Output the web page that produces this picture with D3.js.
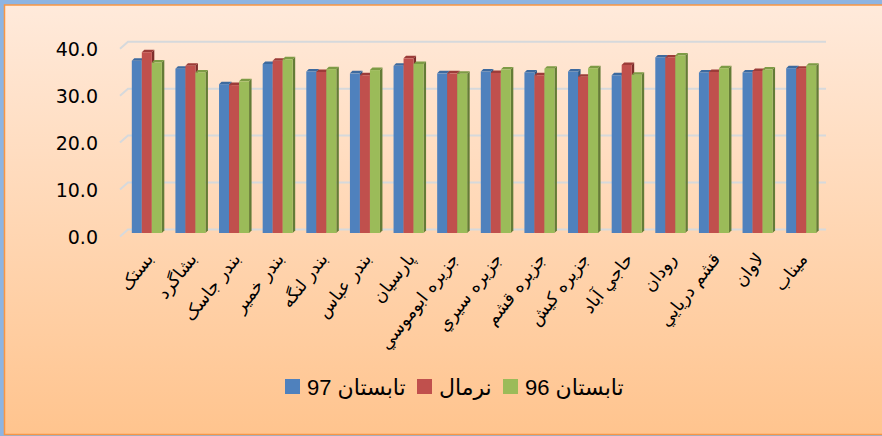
<!DOCTYPE html>
<html>
<head>
<meta charset="utf-8">
<script src="https://cdn.jsdelivr.net/npm/d3@7"></script>
<style>
  body { margin: 0; background: #8db4e2; }
  svg { display: block; }
</style>
</head>
<body>
<div id="chart"></div>
<script>
const categories = ['بستک', 'بشاگرد', 'بندر جاسک', 'بندر خمیر', 'بندر لنگه', 'بندر عباس', 'پارسیان',
  'جزیره ابوموسي', 'جزیره سیري', 'جزیره قشم', 'جزیره کیش', 'حاجي آباد', 'رودان', 'قشم دریایي', 'لاوان', 'میناب']
const seriesNames = ['تابستان 97', 'نرمال', 'تابستان 96']
const summer97 = [36.7, 35.0, 31.7, 36.0, 34.4, 34.0, 35.6, 34.0, 34.4, 34.2, 34.4, 33.6, 37.4, 34.2, 34.2, 35.1]
const normal   = [38.5, 35.6, 31.5, 36.7, 34.3, 33.6, 37.2, 34.0, 34.1, 33.6, 33.3, 35.8, 37.4, 34.3, 34.5, 35.0]
const summer96 = [36.3, 34.2, 32.3, 37.0, 34.9, 34.7, 36.0, 33.9, 34.8, 35.0, 35.1, 33.7, 37.8, 35.1, 34.8, 35.6]
const yTicks = [0, 10, 20, 30, 40]

const colors = ['#4f81bd', '#c0504d', '#9bbb59']
const topCol = ['#3d6a9f', '#9c3c39', '#7d9b45']
const sideCol = ['#2f5784', '#7e2e2c', '#647c36']

const W = 882, H = 436
const svg = d3.select('#chart').append('svg').attr('width', W).attr('height', H)

const defs = svg.append('defs')
const grad = defs.append('linearGradient').attr('id', 'bg').attr('x1', 0).attr('y1', 0).attr('x2', 0).attr('y2', 1)
grad.append('stop').attr('offset', '0%').attr('stop-color', '#ffeadb')
grad.append('stop').attr('offset', '100%').attr('stop-color', '#ffc48e')

svg.append('rect').attr('width', W).attr('height', H).attr('fill', '#8db4e2')
svg.append('rect').attr('x', 4.5).attr('y', 5).attr('width', W).attr('height', 429.5)
  .attr('fill', 'url(#bg)').attr('stroke', '#f79646').attr('stroke-width', 1.5)

// back wall scale, with depth offset for the front edge
const dx = 8, dy = 7
const y = d3.scaleLinear().domain([0, 40]).range([229.5, 41.7])
const wallX0 = 128, wallX1 = 826

const grid = svg.append('g')
yTicks.forEach(t => {
  grid.append('path')
    .attr('d', `M${wallX0 - dx},${y(t) + dy}L${wallX0},${y(t)}L${wallX1},${y(t)}`)
    .attr('fill', 'none').attr('stroke', '#d6d9dc').attr('stroke-width', 2)
})

const yAxis = d3.axisLeft(y).tickValues(yTicks).tickFormat(d3.format('.1f')).tickSize(0)
const ya = svg.append('g').attr('transform', `translate(98,${dy + 1})`).call(yAxis)
ya.select('.domain').remove()
ya.selectAll('text').attr('x', 0)
  .style('font-family', 'DejaVu Sans, sans-serif').style('font-size', '19px').attr('fill', '#000')

const x0 = d3.scaleBand().domain(categories).range([125, 823]).paddingInner(0.312).paddingOuter(0.156)
const x1 = d3.scaleBand().domain(seriesNames).range([0, x0.bandwidth()])

const rows = categories.map((c, i) => ({ cat: c, vals: [summer97[i], normal[i], summer96[i]] }))
const bd = 2.5, off = 3.5

const groups = svg.append('g').selectAll('g').data(rows).enter().append('g')
  .attr('transform', d => `translate(${x0(d.cat)},0)`)

groups.each(function (d) {
  const g = d3.select(this)
  d.vals.forEach((v, k) => {
    const bx = x1(seriesNames[k]), bw = x1.bandwidth()
    const top = y(v) + off, base = y(0) + off
    g.append('path')
      .attr('d', `M${bx + bw},${top}L${bx + bw + bd},${top - bd}L${bx + bw + bd},${base - bd}L${bx + bw},${base}Z`)
      .attr('fill', sideCol[k])
    g.append('path')
      .attr('d', `M${bx},${top}L${bx + bd},${top - bd}L${bx + bw + bd},${top - bd}L${bx + bw},${top}Z`)
      .attr('fill', topCol[k])
    g.append('rect').attr('x', bx).attr('y', top).attr('width', bw).attr('height', base - top)
      .attr('fill', colors[k])
  })
})

// rotated category labels
svg.append('g').selectAll('text').data(categories).enter().append('text')
  .attr('transform', d => `translate(${x0(d) + x0.bandwidth() / 2 + 3},${256}) rotate(-52)`)
  .attr('text-anchor', 'end')
  .attr('dy', '0.3em')
  .style('font-family', 'DejaVu Sans, sans-serif').style('font-size', '17.5px')
  .text(d => d)

// legend
const legend = svg.append('g')
const legendX = [285, 417, 503]
seriesNames.forEach((s, k) => {
  legend.append('rect').attr('x', legendX[k]).attr('y', 379).attr('width', 15).attr('height', 15).attr('fill', colors[k])
  legend.append('text').attr('x', legendX[k] + 22).attr('y', 387).attr('dy', '0.35em')
    .style('font-family', 'Liberation Sans, DejaVu Sans, sans-serif').style('font-size', '22px')
    .text(s)
})
</script>
</body>
</html>
